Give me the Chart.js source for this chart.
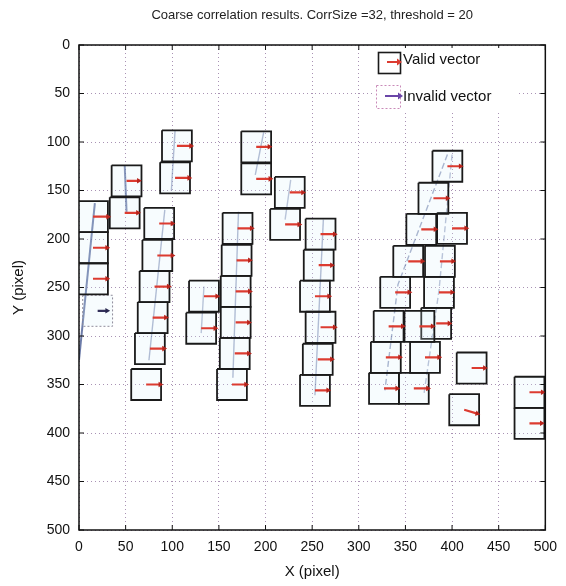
<!DOCTYPE html>
<html>
<head>
<meta charset="utf-8">
<script src="https://cdn.jsdelivr.net/npm/chart.js"></script>
<style>
  html, body { margin: 0; padding: 0; background: #fff; }
  #wrap { width: 566px; height: 586px; }
</style>
</head>
<body>
<div id="wrap"><canvas id="chartCanvas" width="566" height="586"></canvas></div>
<script>
// Interrogation window centres (image pixels)
const boxX = [15, 15, 15, 20, 51, 49, 86, 84, 81, 79, 76, 72, 105, 103, 134, 131,
              170, 169, 168, 168, 167, 164, 190, 190, 226, 221, 259, 257, 253, 259, 256, 253,
              395, 380, 367, 400, 353, 387, 339, 386, 332, 365, 383, 329, 371, 327, 359,
              421, 413, 483, 483];
const boxY = [177, 209, 241, 274, 140, 173, 184, 217, 249, 281, 313, 350, 104, 137, 259, 292,
              189, 222, 254, 286, 318, 350, 105, 138, 152, 185, 195, 227, 259, 291, 324, 356,
              125, 158, 190, 189, 223, 223, 255, 255, 290, 290, 287, 322, 322, 354, 354,
              333, 376, 358, 390];
// Displacement of each window (pixels)
const vecU = [16, 15, 15, 10, 13, 14, 14, 16, 15, 14, 15, 15, 15, 15, 14, 15,
              15, 14, 15, 14, 15, 15, 14, 15, 14, 15, 15, 14, 15, 15, 15, 14,
              14, 15, 15, 15, 15, 14, 15, 14, 15, 14, 14, 15, 15, 14, 15,
              14, 14, 14, 13];
const vecV = [0, 0, 0, 0, 0, 0, 0, 0, 0, 0, 0, 0, 0, 0, 0, 0,
              0, 0, 0, 0, 0, 0, 0, 0, 0, 0, 0, 0, 0, 0, 0, 0,
              0, 0, 0, 0, 0, 0, 0, 0, 0, 0, 0, 0, 0, 0, 0,
              0, 4, 0, 0];
const boxValid = boxX.map((x, i) => i !== 3);
const CORR_SIZE = 32;
const axisTicks = [0, 50, 100, 150, 200, 250, 300, 350, 400, 450, 500];

// Particle streaks from the underlying frame
const streakX = [[0, 17], [49, 51], [92, 75], [103, 99], [171, 165], [134, 131],
                 [198, 189], [227, 221], [262, 253], [395, 342, 328], [400, 386, 370]];
const streakY = [[325, 163], [124, 172], [170, 325], [88, 150], [172, 343], [249, 297],
                 [90, 134], [139, 180], [180, 361], [113, 247, 356], [113, 253, 359]];
const streakAlpha = [0.75, 0.7, 0.45, 0.45, 0.45, 0.4, 0.45, 0.4, 0.45, 0.5, 0.4];

const datasets = [];

streakX.forEach((xs, i) => {
    datasets.push({
        data: xs.map((x, j) => ({ x: x, y: streakY[i][j] })),
        borderColor: `rgba(60, 80, 140, ${streakAlpha[i]})`,
        borderWidth: i < 2 ? 2 : 1.4,
        borderDash: i > 8 ? [6, 3] : [],
        pointRadius: 0,
        order: 4
    });
});

// Correlation windows
boxX.forEach((cx, i) => {
    const h = CORR_SIZE / 2;
    const cy = boxY[i];
    datasets.push({
        data: [
            { x: cx - h, y: cy - h }, { x: cx + h, y: cy - h },
            { x: cx + h, y: cy + h }, { x: cx - h, y: cy + h },
            { x: cx - h, y: cy - h }
        ],
        borderColor: boxValid[i] ? '#1a1a1a' : '#8e8a9a',
        borderWidth: boxValid[i] ? 1.8 : 1,
        borderDash: boxValid[i] ? [] : [2, 2],
        backgroundColor: 'rgba(214, 240, 250, 0.2)',
        fill: 'shape',
        pointRadius: 0,
        order: 3
    });
});

// Vector shafts
boxX.forEach((cx, i) => {
    datasets.push({
        data: [{ x: cx, y: boxY[i] }, { x: cx + vecU[i], y: boxY[i] + vecV[i] }],
        borderColor: boxValid[i] ? '#dc3b30' : '#33305a',
        borderWidth: 2.2,
        pointRadius: 0,
        order: 2
    });
});

// Vector heads
datasets.push({
    data: boxX.map((cx, i) => ({ x: cx + vecU[i], y: boxY[i] + vecV[i] })),
    showLine: false,
    pointStyle: 'triangle',
    pointRadius: 3.2,
    pointBorderWidth: 0,
    pointRotation: boxX.map((cx, i) => 90 + Math.atan2(vecV[i] * 0.97, vecU[i] * 0.94) * 180 / Math.PI),
    pointBackgroundColor: boxValid.map(v => v ? '#b8241c' : '#2a2850'),
    pointBorderColor: boxValid.map(v => v ? '#b8241c' : '#2a2850'),
    order: 1
});

// Box frame, inward ticks and the legend
const axesFrame = {
    id: 'axesFrame',
    afterDatasetsDraw(chart) {
        const { ctx, chartArea: a, scales } = chart;
        ctx.save();
        ctx.strokeStyle = '#111';
        ctx.lineWidth = 1.5;
        ctx.strokeRect(a.left, a.top, a.right - a.left, a.bottom - a.top);
        ctx.lineWidth = 1;
        const len = 5;
        ctx.beginPath();
        axisTicks.forEach(v => {
            const px = scales.x.getPixelForValue(v);
            const py = scales.y.getPixelForValue(v);
            ctx.moveTo(px, a.bottom); ctx.lineTo(px, a.bottom - len);
            ctx.moveTo(px, a.top); ctx.lineTo(px, a.top + len);
            ctx.moveTo(a.left, py); ctx.lineTo(a.left + len, py);
            ctx.moveTo(a.right, py); ctx.lineTo(a.right - len, py);
        });
        ctx.stroke();

        // legend
        ctx.fillStyle = '#fff';
        ctx.fillRect(372, 48, 146, 64);

        const arrow = (x0, x1, y, col) => {
            ctx.strokeStyle = col;
            ctx.fillStyle = col;
            ctx.lineWidth = 2;
            ctx.setLineDash([]);
            ctx.beginPath(); ctx.moveTo(x0, y); ctx.lineTo(x1 - 3, y); ctx.stroke();
            ctx.beginPath(); ctx.moveTo(x1, y); ctx.lineTo(x1 - 5, y - 3.5); ctx.lineTo(x1 - 5, y + 3.5);
            ctx.closePath(); ctx.fill();
        };
        ctx.strokeStyle = '#1a1a1a';
        ctx.lineWidth = 1.6;
        ctx.strokeRect(378.5, 52.5, 22, 21);
        arrow(387, 402, 62, '#dc3b30');

        ctx.strokeStyle = '#c98ab8';
        ctx.lineWidth = 1;
        ctx.setLineDash([2, 2]);
        ctx.strokeRect(376.5, 85.5, 24, 23);
        arrow(385, 403, 96, '#6a46a8');

        ctx.setLineDash([]);
        ctx.fillStyle = '#111';
        ctx.font = '15px "Liberation Sans", Arial, sans-serif';
        ctx.textBaseline = 'middle';
        ctx.textAlign = 'left';
        ctx.fillText('Valid vector', 403, 60);
        ctx.fillText('Invalid vector', 403, 97);
        ctx.restore();
    }
};

const tickFont = { family: '"Liberation Sans", Arial, sans-serif', size: 14 };
const gridOpts = { color: 'rgba(140, 110, 155, 0.75)', lineWidth: 1, drawTicks: false };

new Chart(document.getElementById('chartCanvas').getContext('2d'), {
    type: 'line',
    data: { datasets: datasets },
    options: {
        responsive: false,
        animation: false,
        events: [],
        layout: { padding: { left: 0, right: 17, top: 0, bottom: 0 } },
        plugins: {
            legend: { display: false },
            tooltip: { enabled: false },
            title: {
                display: true,
                text: 'Coarse correlation results. CorrSize =32, threshold = 20',
                fullSize: false,
                color: '#222',
                font: { family: '"Liberation Sans", Arial, sans-serif', size: 13, weight: 'normal' },
                padding: { top: 8, bottom: 21.4 }
            }
        },
        scales: {
            x: {
                type: 'linear',
                min: 0,
                max: 500,
                ticks: { stepSize: 50, color: '#111', font: tickFont, padding: 9, maxRotation: 0 },
                grid: gridOpts,
                border: { display: false, dash: [1, 3] },
                title: {
                    display: true, text: 'X (pixel)', color: '#111',
                    font: { family: '"Liberation Sans", Arial, sans-serif', size: 15 },
                    padding: { top: 0, bottom: 5 }
                },
                afterFit(scale) { scale.height = 56; }
            },
            y: {
                type: 'linear',
                reverse: true,
                min: 0,
                max: 500,
                ticks: { stepSize: 50, color: '#111', font: tickFont, padding: 9 },
                grid: gridOpts,
                border: { display: false, dash: [1, 3] },
                title: {
                    display: true, text: 'Y (pixel)', color: '#111',
                    font: { family: '"Liberation Sans", Arial, sans-serif', size: 15 },
                    padding: { top: 10, bottom: 0 }
                },
                afterFit(scale) { scale.width = 79; }
            }
        }
    },
    plugins: [axesFrame]
});
</script>
</body>
</html>
